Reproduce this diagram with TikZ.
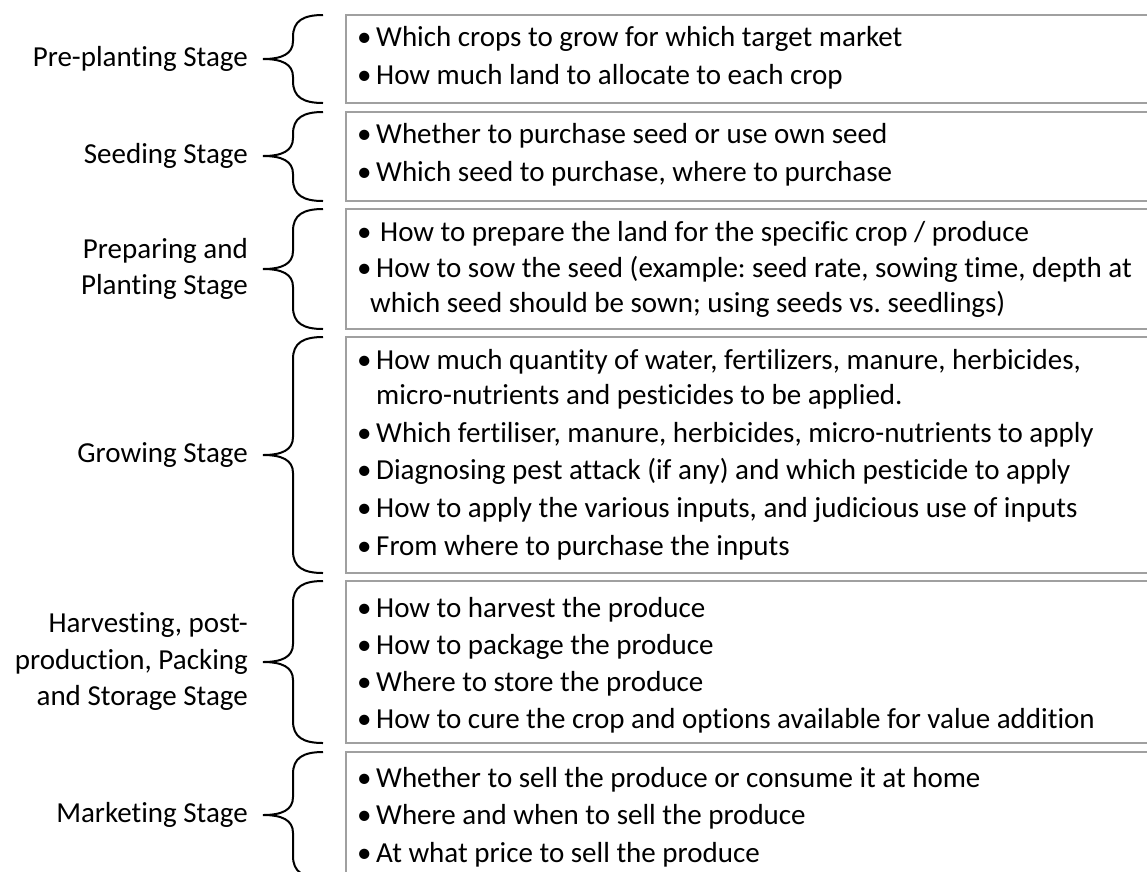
\documentclass[tikz,border=0pt]{standalone}
\usepackage{fontspec}
\setmainfont{Carlito}[Ligatures={NoCommon}]
\frenchspacing
\definecolor{boxgray}{RGB}{160,160,160}
\newcommand\stagebrace[3]{%
  \draw[bracestyle] (323,#1) .. controls (303,#1) and (293,#1+6) .. (293,#1+22)
    -- (293,#2-18) .. controls (293,#2-5) and (282,#2) .. (263,#2)
    .. controls (282,#2) and (293,#2+5) .. (293,#2+18)
    -- (293,#3-22) .. controls (293,#3-6) and (303,#3) .. (323,#3);}
\newcommand\bul{\makebox[19pt][l]{•}}
\begin{document}
\begin{tikzpicture}[x=1pt,y=-1pt,
  bracestyle/.style={draw=black,line width=2pt},
  stagebox/.style={draw=boxgray,line width=1.6pt},
  txt/.style={anchor=base west,inner sep=0pt,font=\fontsize{29}{35.4}\selectfont\frenchspacing},
  lbl/.style={anchor=east,inner sep=0pt,align=right,font=\fontsize{29}{36.5}\selectfont}]
\useasboundingbox (0,0) rectangle (1147,871);
\clip (0,0) rectangle (1147,871);
% boxes
\draw[stagebox] (346,15) rectangle (1170,103);
\draw[stagebox] (346,112) rectangle (1170,201);
\draw[stagebox] (346,209) rectangle (1170,329);
\draw[stagebox] (346,337) rectangle (1170,573);
\draw[stagebox] (346,581) rectangle (1170,743);
\draw[stagebox] (346,752) rectangle (1170,900);
% braces
\stagebrace{15}{59}{103}
\stagebrace{112}{156}{201}
\stagebrace{209}{269}{329}
\stagebrace{337}{455}{573}
\stagebrace{581}{662}{743}
\stagebrace{752}{815}{878}
% labels
\node[lbl] (l1) at (248,59) {Pre-planting Stage};
\node[lbl] (l2) at (248,156) {Seeding Stage};
\node[lbl] (l3) at (248,269) {Preparing and\\Planting Stage};
\node[lbl] (l4) at (248,455) {Growing Stage};
\node[lbl] (l5) at (248,662) {Harvesting, post-\\production, Packing\\and Storage Stage};
\node[lbl] (l6) at (248,815) {Marketing Stage};
% box 1
\node[txt] (t11) at (357,46) {\bul Which crops to grow for which target market};
\node[txt] (t12) at (357,84) {\bul How much land to allocate to each crop};
% box 2
\node[txt] (t21) at (357,143) {\bul Whether to purchase seed or use own seed};
\node[txt] (t22) at (357,181) {\bul Which seed to purchase, where to purchase};
% box 3
\node[txt] (t31) at (357,241) {\makebox[23pt][l]{•}How to prepare the land for the specific crop / produce};
\node[txt] (t32) at (357,277) {\bul How to sow the seed (example: seed rate, sowing time, depth at};
\node[txt] (t33) at (370,312) {which seed should be sown; using seeds vs. seedlings)};
% box 4
\node[txt] (t41) at (357,369) {\bul How much quantity of water, fertilizers, manure, herbicides,};
\node[txt] (t42) at (376,404) {micro-nutrients and pesticides to be applied.};
\node[txt] (t43) at (357,442) {\bul Which fertiliser, manure, herbicides, micro-nutrients to apply};
\node[txt] (t44) at (357,479) {\bul Diagnosing pest attack (if any) and which pesticide to apply};
\node[txt] (t45) at (357,517) {\bul How to apply the various inputs, and judicious use of inputs};
\node[txt] (t46) at (357,555) {\bul From where to purchase the inputs};
% box 5
\node[txt] (t51) at (357,617) {\bul How to harvest the produce};
\node[txt] (t52) at (357,654) {\bul How to package the produce};
\node[txt] (t53) at (357,691) {\bul Where to store the produce};
\node[txt] (t54) at (357,728) {\bul How to cure the crop and options available for value addition};
% box 6
\node[txt] (t61) at (357,787) {\bul Whether to sell the produce or consume it at home};
\node[txt] (t62) at (357,824) {\bul Where and when to sell the produce};
\node[txt] (t63) at (357,862) {\bul At what price to sell the produce};
\end{tikzpicture}
\end{document}
